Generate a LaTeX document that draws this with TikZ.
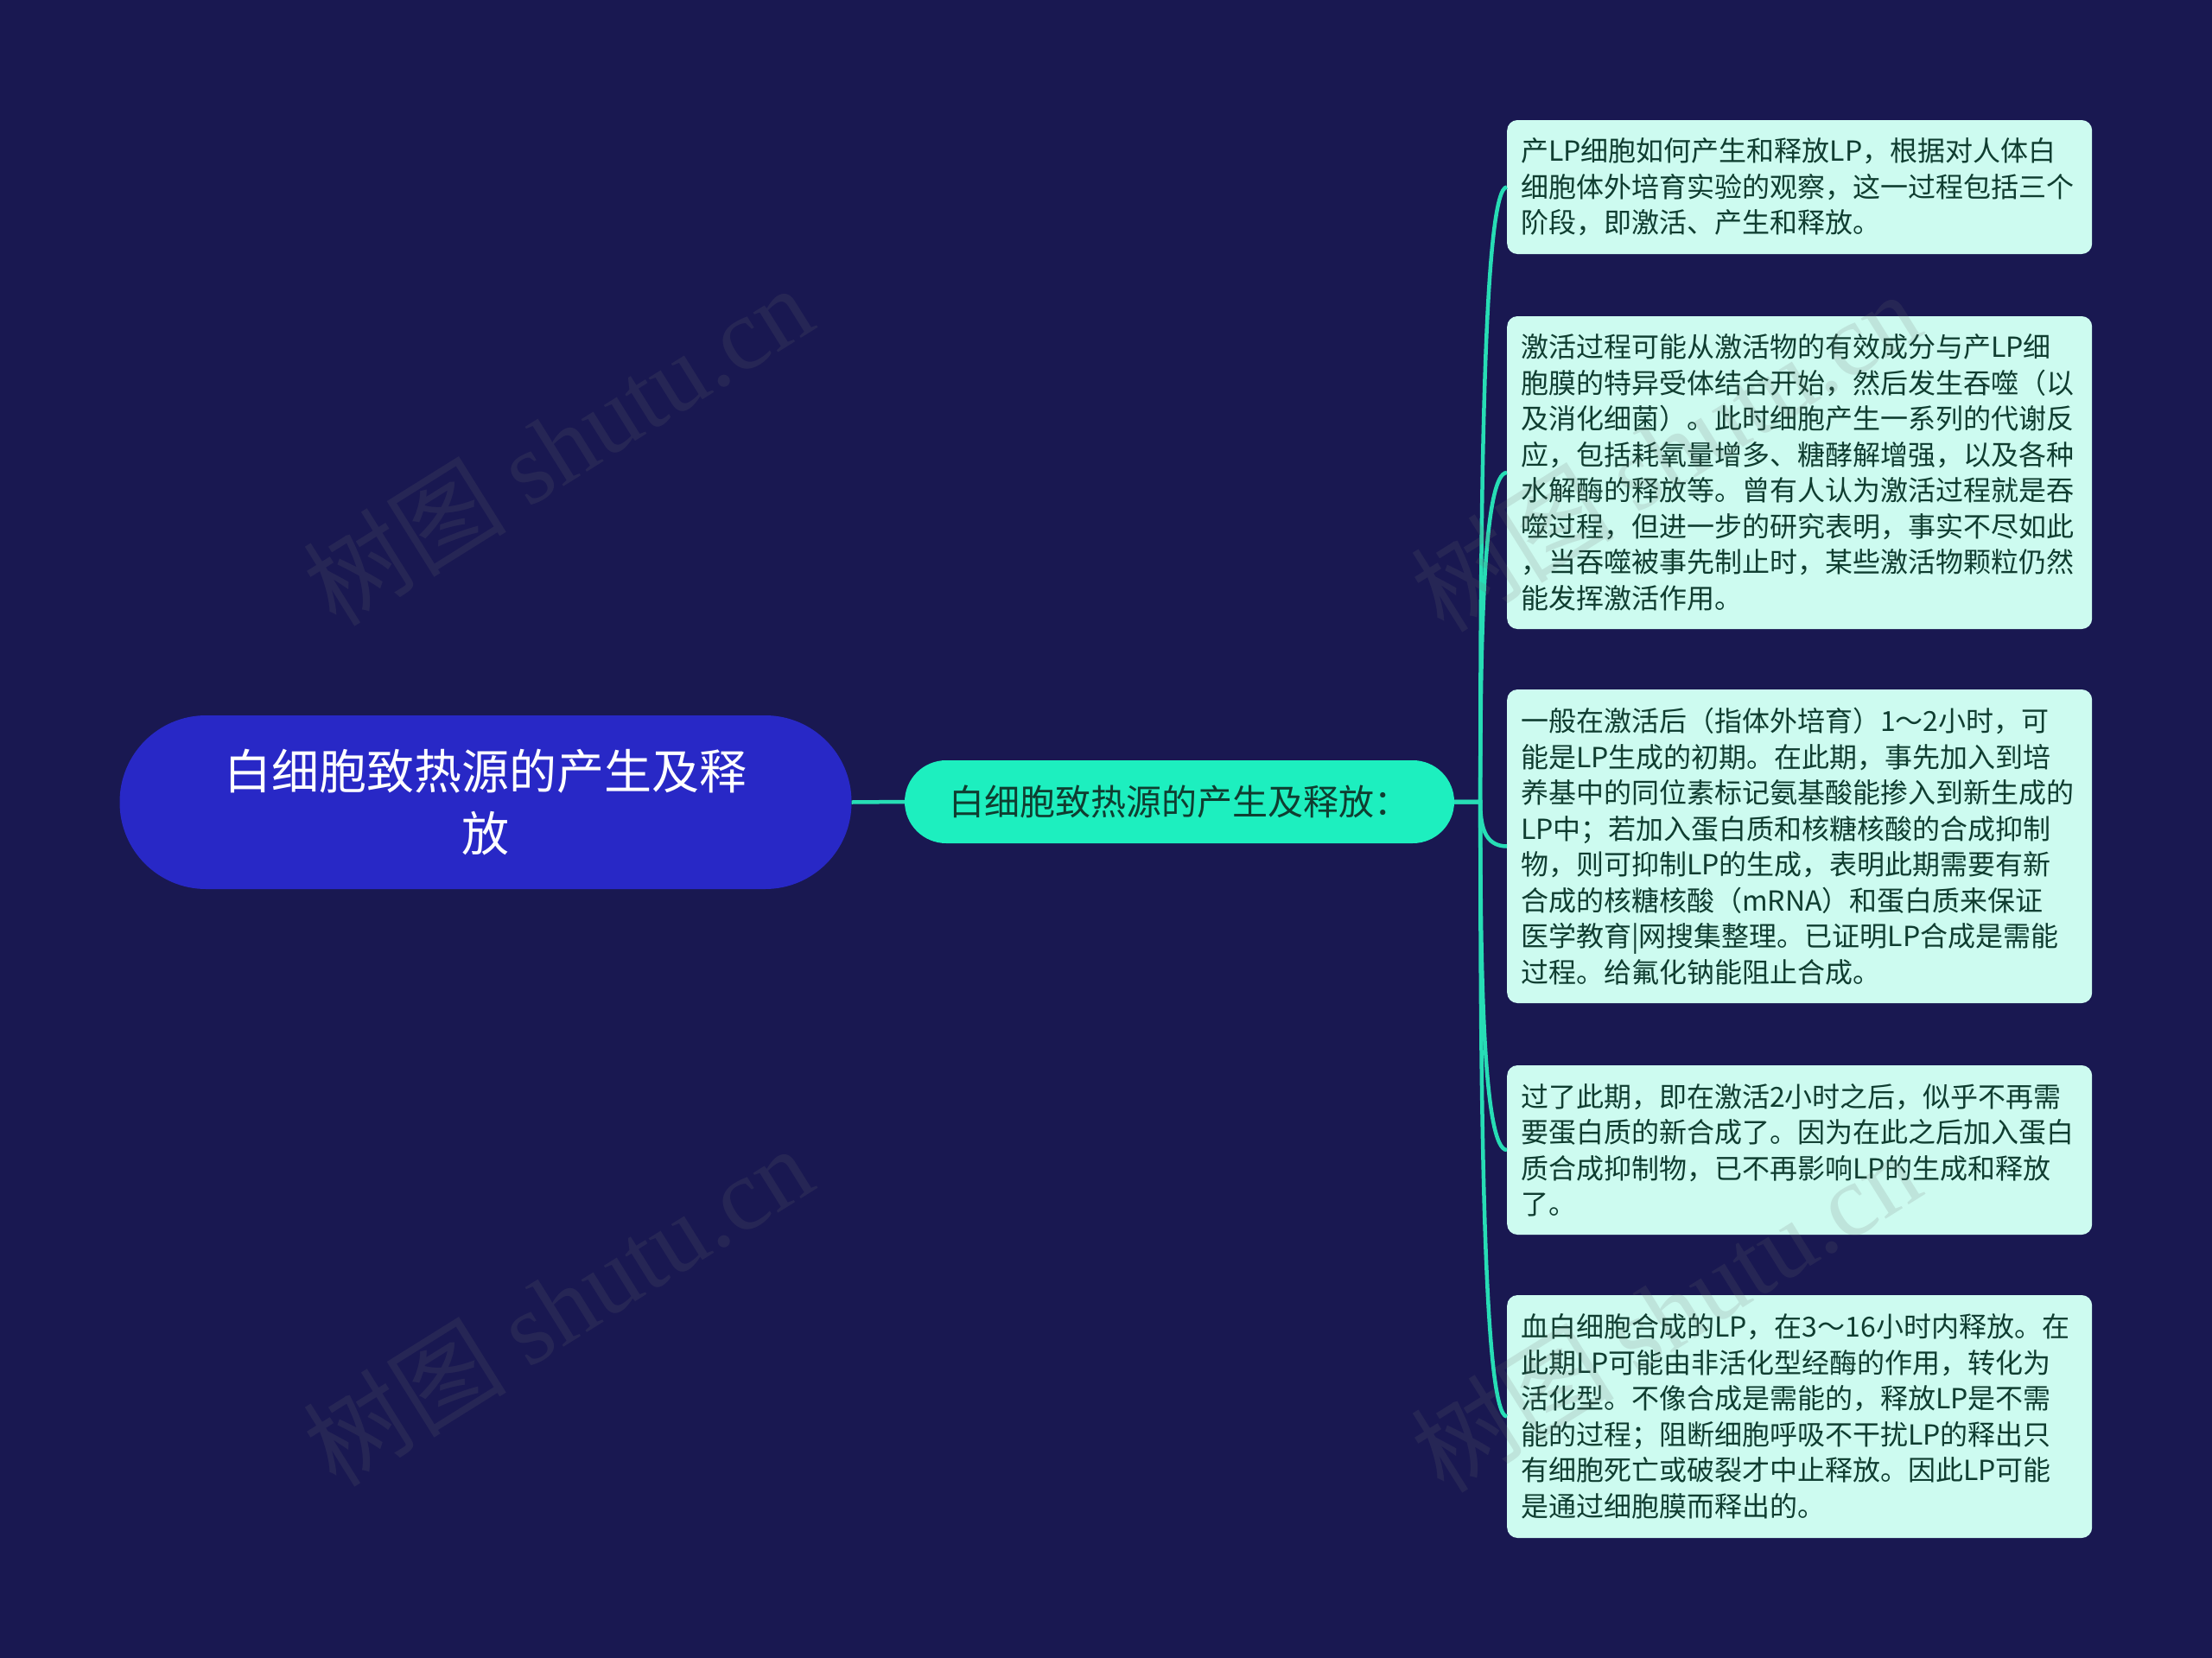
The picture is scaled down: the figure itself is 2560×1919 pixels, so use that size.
\documentclass[tikz,border=0pt]{standalone}
\usepackage{fontspec}
\setmainfont{Noto Sans CJK SC}
\newfontfamily\wmserif{Liberation Serif}
\usetikzlibrary{calc}
\definecolor{bgc}{HTML}{191851}
\definecolor{rootc}{HTML}{2828C6}
\definecolor{midc}{HTML}{1DEFBF}
\definecolor{leafc}{HTML}{CDFBF0}
\definecolor{linec}{HTML}{27DDB5}
\definecolor{txtc}{HTML}{0F3D30}
\definecolor{wmc}{HTML}{707070}
\tikzset{
  rootbox/.style={fill=rootc, rounded corners=100pt, minimum width=847pt, minimum height=201pt,
    inner sep=0pt, text=white, align=center, font=\fontsize{55}{72}\selectfont},
  midbox/.style={fill=midc, rounded corners=48pt, minimum width=636pt, minimum height=96pt,
    inner sep=0pt, text=txtc, align=center, font=\fontsize{41}{50}\selectfont},
  leafbox/.style={fill=leafc, rounded corners=12pt, anchor=west, text width=645pt,
    inner xsep=16pt, inner ysep=0pt, text=txtc, align=left, font=\fontsize{32}{41.5}\selectfont},
  conn/.style={draw=linec, line width=4.5pt},
  wm/.style={text=wmc, opacity=0.16, rotate=32, font=\fontsize{118}{118}\selectfont, inner sep=0pt}
}
\begin{document}
\begin{tikzpicture}[x=1pt,y=-1pt]
\useasboundingbox (0,0) rectangle (2560,1919);
\fill[bgc] (0,0) rectangle (2560,1919);

\node[rootbox] (root) at (562,928.5) {白细胞致热源的产生及释\\放};
\node[midbox] (mid) at (1365,928) {白细胞致热源的产生及释放：};

\node[leafbox, minimum height=155pt] (l1) at (1744,216.5) {产LP细胞如何产生和释放LP，根据对人体白\\细胞体外培育实验的观察，这一过程包括三个\\阶段，即激活、产生和释放。};
\node[leafbox, minimum height=362pt] (l2) at (1744,547) {激活过程可能从激活物的有效成分与产LP细\\胞膜的特异受体结合开始，然后发生吞噬（以\\及消化细菌）。此时细胞产生一系列的代谢反\\应，包括耗氧量增多、糖酵解增强，以及各种\\水解酶的释放等。曾有人认为激活过程就是吞\\噬过程，但进一步的研究表明，事实不尽如此\\，当吞噬被事先制止时，某些激活物颗粒仍然\\能发挥激活作用。};
\node[leafbox, minimum height=363pt] (l3) at (1744,979.5) {一般在激活后（指体外培育）1～2小时，可\\能是LP生成的初期。在此期，事先加入到培\\养基中的同位素标记氨基酸能掺入到新生成的\\LP中；若加入蛋白质和核糖核酸的合成抑制\\物，则可抑制LP的生成，表明此期需要有新\\合成的核糖核酸（mRNA）和蛋白质来保证\\医学教育|网搜集整理。已证明LP合成是需能\\过程。给氟化钠能阻止合成。};
\node[leafbox, minimum height=196pt] (l4) at (1744,1331) {过了此期，即在激活2小时之后，似乎不再需\\要蛋白质的新合成了。因为在此之后加入蛋白\\质合成抑制物，已不再影响LP的生成和释放\\了。};
\node[leafbox, minimum height=281pt] (l5) at (1744,1639.5) {血白细胞合成的LP，在3～16小时内释放。在\\此期LP可能由非活化型经酶的作用，转化为\\活化型。不像合成是需能的，释放LP是不需\\能的过程；阻断细胞呼吸不干扰LP的释出只\\有细胞死亡或破裂才中止释放。因此LP可能\\是通过细胞膜而释出的。};

\draw[conn] (root.east) -- (mid.west);
\coordinate (j) at ($(mid.east)+(30,0)$);
\foreach \l in {l1,l2,l3,l4,l5}{
  \draw[conn] (mid.east) -- (j) .. controls ($(j)!0.5!(j |- \l.west)$) and ($(\l.west)+(-27,0)$) .. (\l.west);
}

\node[wm] (w1) at (645,515) {树图 {\wmserif shutu.cn}};
\node[wm] (w2) at (645,1511) {树图 {\wmserif shutu.cn}};
\node[wm] (w3) at (1927,522) {树图 {\wmserif shutu.cn}};
\node[wm] (w4) at (1927,1518) {树图 {\wmserif shutu.cn}};
\end{tikzpicture}
\end{document}
